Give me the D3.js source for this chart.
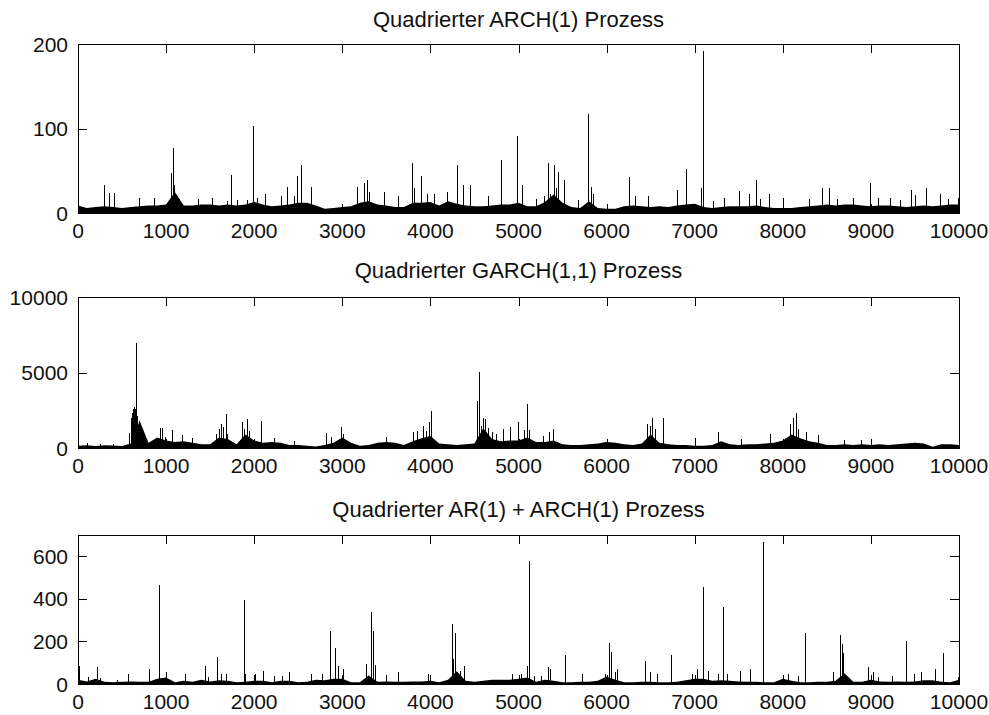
<!DOCTYPE html>
<html>
<head>
<meta charset="utf-8">
<script src="https://cdn.jsdelivr.net/npm/d3@7"></script>
<style>
  body { margin: 0; background: #fff; }
  text { font-family: "Liberation Sans", Arial, sans-serif; fill: #111; }
</style>
</head>
<body>
<svg id="chart" width="989" height="715"></svg>
<script>
// ---- data ----

const titles = [
  "Quadrierter ARCH(1) Prozess",
  "Quadrierter GARCH(1,1) Prozess",
  "Quadrierter AR(1) + ARCH(1) Prozess"
];

const xTicks = [0, 1000, 2000, 3000, 4000, 5000, 6000, 7000, 8000, 9000, 10000];
const archTicks = [0, 100, 200];
const garchTicks = [0, 5000, 10000];
const arArchTicks = [0, 200, 400, 600];

// height of the dense black band, one value every 100 steps (0..10000)
const bandStep = 100;

const archBand = [
  9, 6, 7, 8, 7, 6, 7, 8, 9, 9,
  10, 25, 9, 9, 10, 10, 9, 10, 9, 10,
  13, 10, 8, 9, 10, 12, 12, 9, 5, 6,
  7, 8, 12, 14, 10, 9, 7, 7, 12, 12,
  13, 9, 14, 11, 9, 8, 8, 9, 10, 10,
  12, 8, 8, 13, 22, 12, 7, 6, 14, 6,
  5, 5, 8, 9, 8, 7, 8, 7, 9, 10,
  11, 7, 6, 7, 8, 8, 8, 9, 7, 6,
  6, 6, 7, 8, 9, 10, 9, 10, 10, 9,
  8, 9, 9, 8, 7, 8, 9, 8, 9, 10,
  10
];

const garchBand = [
  150, 180, 130, 180, 160, 130, 300, 1800, 350, 700,
  500, 400, 450, 350, 250, 250, 700, 600, 250, 900,
  500, 350, 400, 350, 200, 200, 150, 100, 200, 350,
  700, 350, 150, 200, 350, 400, 350, 200, 450, 650,
  800, 300, 250, 200, 250, 300, 1300, 600, 450, 500,
  500, 700, 400, 400, 500, 250, 200, 200, 250, 300,
  400, 350, 250, 200, 300, 900, 350, 250, 200, 200,
  150, 150, 200, 450, 250, 200, 250, 250, 300, 350,
  500, 900, 650, 450, 350, 200, 200, 250, 200, 250,
  200, 250, 200, 250, 300, 350, 300, 80, 250, 250,
  200
];

const arArchBand = [
  20, 12, 25, 10, 8, 10, 12, 10, 10, 25,
  30, 8, 15, 10, 20, 12, 18, 15, 8, 10,
  15, 15, 8, 15, 15, 8, 10, 20, 18, 25,
  25, 8, 8, 40, 10, 12, 10, 10, 12, 12,
  15, 8, 20, 60, 15, 10, 15, 20, 20, 20,
  25, 30, 10, 20, 15, 8, 8, 10, 10, 15,
  35, 20, 8, 8, 10, 10, 8, 8, 10, 18,
  25, 25, 15, 18, 15, 12, 10, 10, 8, 8,
  25, 15, 8, 8, 10, 10, 15, 50, 10, 10,
  20, 12, 10, 12, 10, 12, 18, 18, 10, 8,
  20
];

// single tall spikes: [step, value]
const archSpikes = [
  [292,33],[349,24],[413,24],[690,18],[860,18],[1050,47],[1073,77],[1088,33],
  [1152,17],[1364,16],[1516,18],[1694,14],[1732,45],[1808,15],[1921,15],[1986,103],
  [2028,18],[2122,22],[2300,20],[2369,31],[2452,20],[2490,44],[2528,57],[2649,31],
  [3172,31],[3248,35],[3275,39],[3305,25],[3475,25],[3627,20],[3790,59],[3817,29],
  [3893,44],[3961,22],[4044,23],[4184,25],[4298,57],[4366,33],[4454,33],[4650,20],
  [4804,63],[4985,91],[5041,33],[5200,16],[5294,20],[5332,59],[5362,22],[5407,57],
  [5426,30],[5449,48],[5520,39],[5671,15],[5792,117],[5822,31],[5841,22],[6259,43],
  [6320,20],[6470,20],[6802,27],[6897,52],[7073,30],[7093,192],[7210,14],[7330,18],
  [7500,26],[7613,23],[7692,39],[7745,17],[7840,22],[8002,18],[8292,16],[8443,29],
  [8526,29],[8612,17],[8800,18],[8989,35],[9083,18],[9215,18],[9328,15],[9460,27],
  [9498,21],[9630,30],[9781,22],[9875,17],[9989,18]
];

const garchSpikes = [
  [102,330],[254,280],[395,250],[580,1000],[600,2000],[610,2300],[620,2600],[630,2500],
  [640,2700],[650,2600],[663,6940],[675,2100],[690,1800],[700,1360],[710,1000],[720,480],
  [930,1300],[955,1300],[990,700],[1069,1200],[1182,880],[1296,660],
  [1561,920],[1600,1250],[1618,1580],[1648,1360],[1675,2230],[1690,920],[1865,1690],[1885,1250],
  [1921,1900],[1940,1140],[2073,1800],[2220,660],[2450,440],[2820,990],[2870,750],[2983,1420],
  [3010,900],[3500,750],[3797,1030],[3847,1140],[3911,1470],[3950,1100],[3980,1690],[4006,2450],
  [4529,3110],[4556,5020],[4575,1470],[4594,2000],[4615,1900],[4650,1300],[4700,1030],[4747,920],
  [4822,1250],[4898,1420],[4990,1690],[5060,1200],[5098,2890],[5120,1200],[5280,800],[5350,1030],
  [5388,1250],[6463,1580],[6490,1470],[6520,2000],[6545,1250],[6640,2000],[7000,660],[7266,1070],
  [7525,590],[7858,960],[8070,700],[8083,1580],[8120,2000],[8150,2300],[8175,1250],[8265,1070],
  [8404,850],[8700,550],[8890,550]
];

const arArchSpikes = [
  [11,86],[110,31],[216,78],[254,28],[443,20],[565,47],[803,71],[917,466],
  [1000,55],[1220,47],[1436,86],[1470,31],[1573,129],[1620,47],[1685,47],[1884,396],
  [1900,47],[2010,47],[2103,63],[2220,39],[2315,39],[2395,55],[2640,47],[2770,47],
  [2861,248],[2918,170],[2956,86],[3010,71],[3267,94],[3324,338],[3343,248],[3369,89],
  [3500,40],[3637,55],[3975,47],[4241,280],[4262,118],[4283,239],[4332,63],[4378,86],
  [4925,47],[5023,47],[5098,86],[5117,578],[5181,39],[5256,39],[5339,78],[5362,71],
  [5528,138],[5716,47],[5980,47],[6029,193],[6048,152],[6093,55],[6123,71],[6433,110],
  [6493,55],[6576,47],[6727,138],[6972,47],[7030,71],[7096,458],[7149,63],[7262,47],
  [7322,361],[7367,47],[7510,63],[7631,71],[7771,667],[8058,47],[8175,39],[8254,240],
  [8572,55],[8650,232],[8668,188],[8685,144],[8962,78],[9026,55],[9083,31],[9245,39],
  [9395,201],[9489,47],[9564,55],[9724,71],[9815,144],[9985,31]
];

// ---- layout ----
const plotLeft = 78, plotRight = 959;
const tickLen = 9;

const panels = [
  { title: titles[0], band: archBand,   spikes: archSpikes,   yMax: 200,   yTicks: archTicks,   top: 44,  bottom: 213, titleY: 27 },
  { title: titles[1], band: garchBand,  spikes: garchSpikes,  yMax: 10000, yTicks: garchTicks,  top: 297, bottom: 448, titleY: 278 },
  { title: titles[2], band: arArchBand, spikes: arArchSpikes, yMax: 700,   yTicks: arArchTicks, top: 535, bottom: 684, titleY: 517 }
];

const svg = d3.select("#chart");

const x = d3.scaleLinear().domain([0, 10000]).range([plotLeft, plotRight]);

panels.forEach((p, k) => {
  const y = d3.scaleLinear().domain([0, p.yMax]).range([p.bottom, p.top]);

  const clipId = "clip" + k;
  svg.append("clipPath").attr("id", clipId)
    .append("rect")
    .attr("x", plotLeft).attr("y", p.top)
    .attr("width", plotRight - plotLeft).attr("height", p.bottom - p.top);

  const g = svg.append("g").attr("clip-path", `url(#${clipId})`);

  // dense band
  const area = d3.area()
    .x((d, i) => x(i * bandStep))
    .y0(y(0))
    .y1(d => y(d));

  g.append("path")
    .datum(p.band)
    .attr("fill", "#000")
    .attr("d", area);

  // spikes
  g.selectAll("line.spike")
    .data(p.spikes)
    .enter().append("line")
    .attr("class", "spike")
    .attr("x1", d => Math.round(x(d[0])) + 0.5)
    .attr("x2", d => Math.round(x(d[0])) + 0.5)
    .attr("y1", y(0))
    .attr("y2", d => y(d[1]))
    .attr("stroke", "#000")
    .attr("stroke-width", 1)
    .attr("shape-rendering", "crispEdges");

  // box
  svg.append("rect")
    .attr("x", plotLeft).attr("y", p.top)
    .attr("width", plotRight - plotLeft).attr("height", p.bottom - p.top)
    .attr("fill", "none")
    .attr("stroke", "#000")
    .attr("stroke-width", 1)
    .attr("shape-rendering", "crispEdges");

  // x ticks (inside, top and bottom)
  xTicks.forEach(t => {
    const xx = Math.round(x(t)) + 0.5;
    svg.append("line")
      .attr("x1", xx).attr("x2", xx)
      .attr("y1", p.top).attr("y2", p.top + tickLen)
      .attr("stroke", "#000").attr("shape-rendering", "crispEdges");
    svg.append("line")
      .attr("x1", xx).attr("x2", xx)
      .attr("y1", p.bottom).attr("y2", p.bottom - tickLen)
      .attr("stroke", "#000").attr("shape-rendering", "crispEdges");
    svg.append("text")
      .attr("x", x(t))
      .attr("y", p.bottom + 25)
      .attr("text-anchor", "middle")
      .attr("font-size", 21)
      .text(t);
  });

  // y ticks (inside, left and right)
  p.yTicks.forEach(t => {
    const yy = Math.round(y(t)) + 0.5;
    svg.append("line")
      .attr("x1", plotLeft).attr("x2", plotLeft + tickLen)
      .attr("y1", yy).attr("y2", yy)
      .attr("stroke", "#000").attr("shape-rendering", "crispEdges");
    svg.append("line")
      .attr("x1", plotRight).attr("x2", plotRight - tickLen)
      .attr("y1", yy).attr("y2", yy)
      .attr("stroke", "#000").attr("shape-rendering", "crispEdges");
    svg.append("text")
      .attr("x", plotLeft - 10)
      .attr("y", y(t) + 7.5)
      .attr("text-anchor", "end")
      .attr("font-size", 21)
      .text(t);
  });

  // title
  svg.append("text")
    .attr("x", (plotLeft + plotRight) / 2)
    .attr("y", p.titleY)
    .attr("text-anchor", "middle")
    .attr("font-size", 22)
    .text(p.title);
});
</script>
</body>
</html>
